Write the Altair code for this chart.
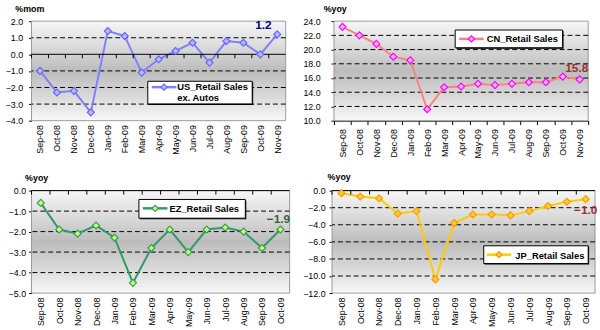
import altair as alt
import pandas as pd

# ---------------- data ----------------
months_15 = ["Sep-08", "Oct-08", "Nov-08", "Dec-08", "Jan-09", "Feb-09", "Mar-09", "Apr-09",
             "May-09", "Jun-09", "Jul-09", "Aug-09", "Sep-09", "Oct-09", "Nov-09"]
months_14 = months_15[:14]

us_values = [-1.0, -2.3, -2.2, -3.5, 1.4, 1.1, -1.1, -0.3, 0.2, 0.7, -0.5, 0.8, 0.7, 0.0, 1.2]
cn_values = [23.2, 22.0, 20.8, 19.0, 18.5, 11.6, 14.7, 14.8, 15.2, 15.0, 15.2, 15.4, 15.4, 16.2, 15.8]
ez_values = [-0.6, -1.9, -2.1, -1.7, -2.3, -4.5, -2.8, -1.9, -3.0, -1.9, -1.8, -2.0, -2.8, -1.9]
jp_values = [-0.3, -0.7, -0.9, -2.7, -2.4, -10.4, -3.8, -2.8, -2.8, -2.9, -2.4, -1.8, -1.3, -1.0]

us_ticks = [2.0, 1.0, 0.0, -1.0, -2.0, -3.0, -4.0]
cn_ticks = [24.0, 22.0, 20.0, 18.0, 16.0, 14.0, 12.0, 10.0]
ez_ticks = [0.0, -1.0, -2.0, -3.0, -4.0, -5.0]
jp_ticks = [0.0, -2.0, -4.0, -6.0, -8.0, -10.0, -12.0]

us_grid = [1.0, -1.0, -2.0, -3.0]
cn_grid = [22.0, 20.0, 18.0, 16.0, 14.0, 12.0]
ez_grid = [-1.0, -2.0, -3.0, -4.0]
jp_grid = [-2.0, -4.0, -6.0, -8.0, -10.0]

FONT = "Liberation Sans"

gradient = alt.Gradient(
    gradient="linear", x1=0, y1=0, x2=0, y2=1,
    stops=[alt.GradientStop(color="#f6f6f6", offset=0),
           alt.GradientStop(color="#d8d8d8", offset=0.28),
           alt.GradientStop(color="#bcbcbc", offset=0.5),
           alt.GradientStop(color="#d8d8d8", offset=0.75),
           alt.GradientStop(color="#f8f8f8", offset=1)])


def panel(months, values, ymin, ymax, ticks, grid, title, title_x, title_y,
          W, H, line_color, pt_fill, pt_stroke, legend_lines, legend_box,
          ann_color, ann_dx, ann_dy, axis_line_at, label_pad, x_axis_black):
    df = pd.DataFrame({"month": months, "value": values})
    one = pd.DataFrame({"k": [0]})
    xs = alt.Scale(type="band", paddingInner=0, paddingOuter=0, domain=months)
    ys = alt.Scale(domain=[ymin, ymax], nice=False, zero=False)

    x_axis = alt.Axis(title=None, labelAngle=-90, labelFont=FONT, labelFontSize=9,
                      labelColor="#000", labelPadding=4, labelOverlap=False,
                      domain=x_axis_black, domainColor="#000",
                      ticks=x_axis_black, tickBand="extent", tickColor="#000", tickSize=4)
    y_axis = alt.Axis(title=title, titleAngle=0, titleAlign="left", titleBaseline="alphabetic",
                      titleX=title_x, titleY=title_y, titleFont=FONT, titleFontSize=9,
                      titleFontWeight="bold", titleColor="#000",
                      values=ticks, format=".1f", labelFont=FONT, labelFontSize=9,
                      labelColor="#000", labelPadding=label_pad, labelOverlap=False,
                      labelFlush=False, tickColor="#000", tickSize=3,
                      domainColor="#000", grid=False)

    def X(**kw):
        return alt.X("month:N", scale=xs, axis=x_axis, sort=months, **kw)

    def Y(field=None, **kw):
        if field is None:
            return alt.Y(scale=ys, axis=y_axis, **kw)
        return alt.Y(field, scale=ys, axis=y_axis, **kw)

    bg = alt.Chart(one).mark_rect(fill=gradient, stroke="#9a9a9a", strokeWidth=1).encode(
        x=alt.value(0), x2=alt.value(W), y=alt.value(0), y2=alt.value(H))

    grid_df = pd.DataFrame({"g": grid})
    gridlines = alt.Chart(grid_df).mark_rule(color="#000", strokeDash=[5, 3], strokeWidth=1).encode(
        y=Y("g:Q"))

    line = alt.Chart(df).mark_line(color=line_color, strokeWidth=2).encode(
        x=X(), y=Y("value:Q"))

    layers = [bg, gridlines, line]

    if axis_line_at is not None:
        tick_len = (ymax - ymin) * 4.0 / H
        axline = alt.Chart(one).mark_rule(color="#000", strokeWidth=1).encode(
            y=Y(datum=axis_line_at))
        ticks_marks = alt.Chart(df).mark_rule(color="#000", strokeWidth=1).encode(
            x=X(bandPosition=0),
            y=Y(datum=axis_line_at),
            y2=alt.Y2(datum=axis_line_at - tick_len))
        layers += [axline, ticks_marks]

    pts = alt.Chart(df).mark_point(shape="diamond", filled=True, fill=pt_fill, stroke=pt_stroke,
                                   strokeWidth=1.2, size=50, opacity=1).encode(
        x=X(), y=Y("value:Q"))
    last = df.tail(1)
    ann = alt.Chart(last).mark_text(font=FONT, fontSize=12, fontWeight="bold", color=ann_color,
                                    dx=ann_dx, dy=ann_dy).encode(
        x=X(), y=Y("value:Q"),
        text=alt.Text("value:Q", format=".1f"))
    layers += [pts, ann]

    bx0, bx1, by0, by1, lx0, lx1, ly, tx, ty = legend_box
    shadow = alt.Chart(one).mark_rect(fill="#000").encode(
        x=alt.value(bx0 + 1), x2=alt.value(bx1 + 1), y=alt.value(by0 + 1), y2=alt.value(by1 + 1))
    box = alt.Chart(one).mark_rect(fill="#fff", stroke="#000", strokeWidth=1).encode(
        x=alt.value(bx0), x2=alt.value(bx1), y=alt.value(by0), y2=alt.value(by1))
    lsample = alt.Chart(one).mark_rule(color=line_color, strokeWidth=2.5).encode(
        x=alt.value(lx0), x2=alt.value(lx1), y=alt.value(ly))
    lpt = alt.Chart(one).mark_point(shape="diamond", filled=True, fill=pt_fill, stroke=pt_stroke,
                                    strokeWidth=1.2, size=40, opacity=1).encode(
        x=alt.value((lx0 + lx1) / 2), y=alt.value(ly))
    layers += [shadow, box, lsample, lpt]
    for i, txt in enumerate(legend_lines):
        layers.append(alt.Chart(pd.DataFrame({"t": [txt]})).mark_text(
            font=FONT, fontSize=9.5, fontWeight="bold", color="#000", align="left",
            baseline="alphabetic").encode(
            x=alt.value(tx), y=alt.value(ty + i * 11), text="t:N"))

    return alt.layer(*layers).properties(width=W, height=H)


us = panel(months_15, us_values, -4.0, 2.0, us_ticks, us_grid, "%mom", -17, -10,
           258, 101, "#8080ff", "#b8b8ff", "#6666ff", ["US_Retail Sales", "ex. Autos"],
           (118, 224, 61, 84, 122, 147, 67, 148, 70),
           "#000080", -14, -10, 0.0, 6, False)
cn = panel(months_15, cn_values, 10.0, 24.0, cn_ticks, cn_grid, "%yoy", -11, -10,
           258, 101, "#ff8080", "#ffb3ff", "#ff00ff", ["CN_Retail Sales"],
           (123, 232, 9, 27, 127, 152, 18, 155, 21),
           "#993333", -3, -12, None, 11, True)
ez = panel(months_14, ez_values, -5.0, 0.0, ez_ticks, ez_grid, "%yoy", -7, -10,
           262, 104, "#339966", "#ccff66", "#339966", ["EZ_Retail Sales"],
           (109, 217, 9, 28, 113, 138, 18, 140, 22),
           "#336633", -2, -11, 0.0, 3, False)
jp = panel(months_14, jp_values, -12.0, 0.0, jp_ticks, jp_grid, "%yoy", -5, -11,
           267, 104, "#ffcc00", "#ffcc33", "#ff9900", ["JP_Retail Sales"],
           (154, 260, 56, 74, 157, 182, 65, 186, 69),
           "#993333", 0, 11, 0.0, 4, False)

top = alt.hconcat(us, cn, spacing=16)
bottom = alt.hconcat(ez, jp, spacing=12)
chart = alt.vconcat(top, bottom, spacing=14).properties(
    padding={"left": 5, "top": 2, "right": 2, "bottom": 0},
    background="#ffffff"
).configure_view(stroke=None)

chart.save("out.html", embed_options={"renderer": "svg", "actions": False})
